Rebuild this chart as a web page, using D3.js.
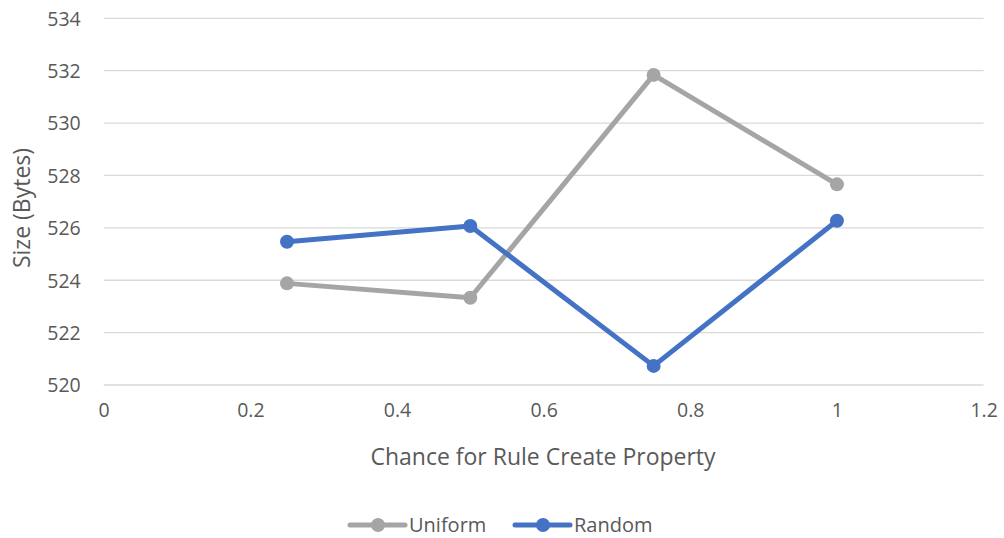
<!DOCTYPE html>
<html>
<head>
<meta charset="utf-8">
<script src="https://cdn.jsdelivr.net/npm/d3@7"></script>
<style>
  body { margin: 0; background: #fff; }
  text { font-family: "Open Sans", "Liberation Sans", sans-serif; fill: #595959; }
</style>
</head>
<body>
<div id="chart"></div>
<script>
// data
var xValues = [0.25, 0.5, 0.75, 1];
var uniform = [523.88, 523.33, 531.84, 527.66];
var random = [525.47, 526.07, 520.73, 526.27];
var xTicks = [0, 0.2, 0.4, 0.6, 0.8, 1, 1.2];
var yTicks = [520, 522, 524, 526, 528, 530, 532, 534];
var seriesNames = ["Uniform", "Random"];

var width = 1004, height = 538;

var svg = d3.select("#chart")
  .append("svg")
    .attr("width", width)
    .attr("height", height);

var x = d3.scaleLinear().domain([0, 1.2]).range([103.7, 983.6]);
var y = d3.scaleLinear().domain([520, 534]).range([385, 18.3]);

// gridlines
svg.append("g")
  .selectAll("line")
  .data(yTicks)
  .enter()
  .append("line")
    .attr("x1", x(0))
    .attr("x2", x(1.2))
    .attr("y1", d => y(d))
    .attr("y2", d => y(d))
    .attr("stroke", "#d9d9d9")
    .attr("stroke-width", 1.3);

// Y axis labels
var yAxis = svg.append("g")
  .attr("transform", "translate(" + x(0) + ",0)")
  .call(d3.axisLeft(y).tickValues(yTicks).tickSize(0).tickPadding(23));
yAxis.select(".domain").remove();
yAxis.selectAll("text")
  .style("font-size", "19.5px")
  .attr("fill", "#595959")
  .attr("dy", "0.35em");

// X axis labels
var xAxis = svg.append("g")
  .attr("transform", "translate(0," + y(520) + ")")
  .call(d3.axisBottom(x).tickValues(xTicks).tickFormat(d => d3.format("")(d)).tickSize(0).tickPadding(18));
xAxis.select(".domain").remove();
xAxis.selectAll("text")
  .style("font-size", "19.5px")
  .attr("fill", "#595959");

// axis titles
svg.append("text")
  .attr("x", 543)
  .attr("y", 465)
  .attr("text-anchor", "middle")
  .style("font-size", "23px")
  .text("Chance for Rule Create Property");

svg.append("text")
  .attr("transform", "translate(30,208) rotate(-90)")
  .attr("text-anchor", "middle")
  .style("font-size", "23px")
  .text("Size (Bytes)");

var colors = ["#a5a5a5", "#4472c4"];
var allSeries = [uniform, random];

var line = d3.line()
  .x((d, i) => x(xValues[i]))
  .y(d => y(d));

allSeries.forEach(function(s, k) {
  svg.append("path")
    .datum(s)
    .attr("d", line)
    .attr("fill", "none")
    .attr("stroke", colors[k])
    .attr("stroke-width", 5)
    .attr("stroke-linejoin", "round");

  svg.selectAll(".pt" + k)
    .data(s)
    .enter()
    .append("circle")
      .attr("cx", (d, i) => x(xValues[i]))
      .attr("cy", d => y(d))
      .attr("r", 7)
      .attr("fill", colors[k]);
});

// legend
var legendX = [350, 515];
seriesNames.forEach(function(name, k) {
  var g = svg.append("g").attr("transform", "translate(" + legendX[k] + ",525)");
  g.append("line")
    .attr("x1", 0).attr("x2", 55)
    .attr("y1", 0).attr("y2", 0)
    .attr("stroke", colors[k])
    .attr("stroke-width", 5)
    .attr("stroke-linecap", "round");
  g.append("circle")
    .attr("cx", 28).attr("cy", 0).attr("r", 7)
    .attr("fill", colors[k]);
  g.append("text")
    .attr("x", 59)
    .attr("y", 0)
    .attr("dy", "0.35em")
    .style("font-size", "20px")
    .text(name);
});
</script>
</body>
</html>
